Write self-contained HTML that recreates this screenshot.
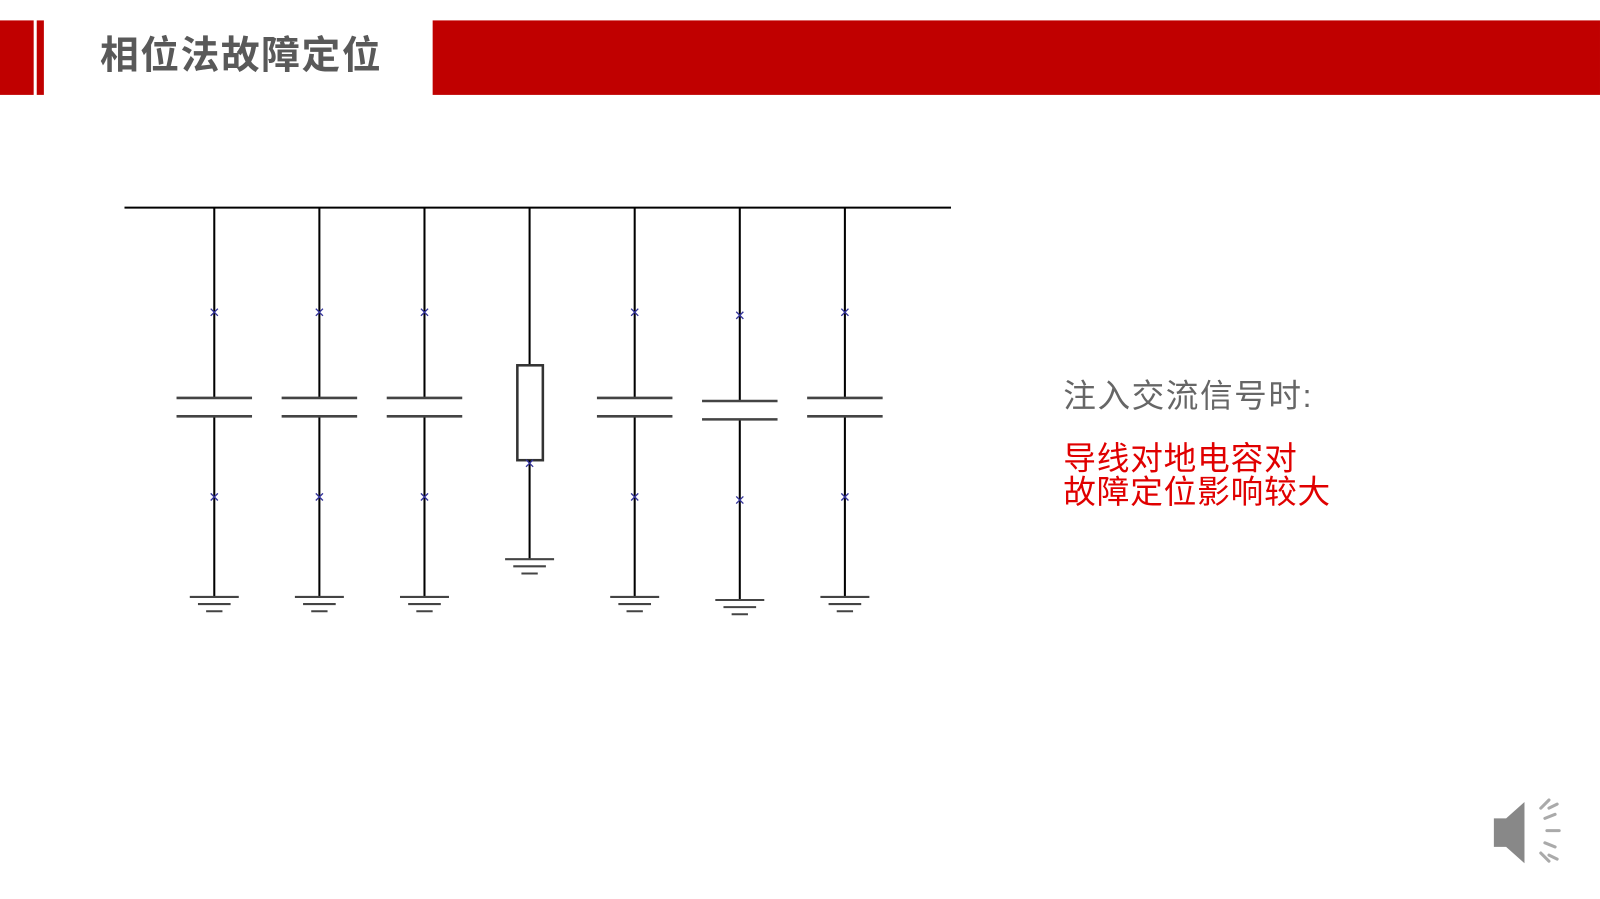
<!DOCTYPE html>
<html><head><meta charset="utf-8"><style>
body{margin:0;width:1600px;height:899px;background:#fff;overflow:hidden;position:relative;font-family:"Liberation Sans","Noto Sans CJK SC",sans-serif}
#w{position:absolute;left:0;top:0;width:1568px;height:881px;transform:scale(1.0204);transform-origin:0 0}
.t{position:absolute;white-space:nowrap}
</style></head><body><div id="w">
<div style="position:absolute;left:0;top:20px;width:33px;height:73px;background:#c00000"></div>
<div style="position:absolute;left:36px;top:20px;width:7px;height:73px;background:#c00000"></div>
<div style="position:absolute;left:424px;top:20px;width:1144px;height:73px;background:#c00000"></div>
<div class="t" style="left:98px;top:32px;font-size:38px;font-weight:bold;color:#595959;line-height:46px;letter-spacing:1.5px">相位法故障定位</div>
<div class="t" style="left:1042px;top:368px;font-size:32px;color:#666;line-height:40px;letter-spacing:1.5px">注入交流信号时:</div>
<div class="t" style="left:1042px;top:433px;font-size:32px;color:#e00000;line-height:33px;letter-spacing:0.8px">导线对地电容对<br>故障定位影响较大</div>
<svg width="1568" height="881" style="position:absolute;left:0;top:0">
<line x1="122" y1="203.5" x2="932" y2="203.5" stroke="#000" stroke-width="2"/>
<g id="cols"></g>
<g fill="#888" transform="translate(1462,780)">
<polygon points="2,22 14,22 32,6 32,66 14,50 2,50"/>
<g stroke="#aaa" stroke-width="3" stroke-linecap="round">
<line x1="48" y1="12" x2="56" y2="4"/><line x1="52" y1="22" x2="62" y2="18"/><line x1="54" y1="34" x2="66" y2="34"/><line x1="52" y1="46" x2="62" y2="50"/><line x1="48" y1="56" x2="56" y2="64"/><line x1="56" y1="12" x2="64" y2="8"/><line x1="56" y1="58" x2="64" y2="62"/>
</g></g>
</svg>
</div>
<script>
var g=document.getElementById('cols'),s='';
function X(x,y){return '<path d="M'+(x-3.5)+' '+(y-3.5)+'L'+(x+3.5)+' '+(y+3.5)+'M'+(x+3.5)+' '+(y-3.5)+'L'+(x-3.5)+' '+(y+3.5)+'" stroke="#33339a" stroke-width="1.3"/>';}
var xs=[210,313,416,622,725,828];
xs.forEach(function(x){
 var d=(x==725)?3:0;
 var p1=390+d,p2=408+d,gy=585+d;
 s+='<line x1="'+x+'" y1="203" x2="'+x+'" y2="'+p1+'" stroke="#000" stroke-width="2"/>';
 s+='<line x1="'+x+'" y1="'+p2+'" x2="'+x+'" y2="'+gy+'" stroke="#000" stroke-width="2"/>';
 s+='<line x1="'+(x-37)+'" y1="'+p1+'" x2="'+(x+37)+'" y2="'+p1+'" stroke="#444" stroke-width="2.5"/>';
 s+='<line x1="'+(x-37)+'" y1="'+p2+'" x2="'+(x+37)+'" y2="'+p2+'" stroke="#444" stroke-width="2.5"/>';
 s+='<line x1="'+(x-24)+'" y1="'+gy+'" x2="'+(x+24)+'" y2="'+gy+'" stroke="#444" stroke-width="2"/>';
 s+='<line x1="'+(x-16)+'" y1="'+(gy+7)+'" x2="'+(x+16)+'" y2="'+(gy+7)+'" stroke="#444" stroke-width="2"/>';
 s+='<line x1="'+(x-8)+'" y1="'+(gy+14)+'" x2="'+(x+8)+'" y2="'+(gy+14)+'" stroke="#444" stroke-width="2"/>';
 s+=X(x,306+d)+X(x,487+d);
});
s+='<line x1="519" y1="203" x2="519" y2="358" stroke="#000" stroke-width="2"/>';
s+='<rect x="507" y="358" width="25" height="93" fill="#fff" stroke="#333" stroke-width="2.5"/>';
s+='<line x1="519" y1="451" x2="519" y2="548" stroke="#000" stroke-width="2"/>';
s+='<line x1="495" y1="548" x2="543" y2="548" stroke="#444" stroke-width="2"/>';
s+='<line x1="503" y1="555" x2="535" y2="555" stroke="#444" stroke-width="2"/>';
s+='<line x1="511" y1="562" x2="527" y2="562" stroke="#444" stroke-width="2"/>';
s+=X(519,454);
g.innerHTML=s;
</script>
</body></html>
